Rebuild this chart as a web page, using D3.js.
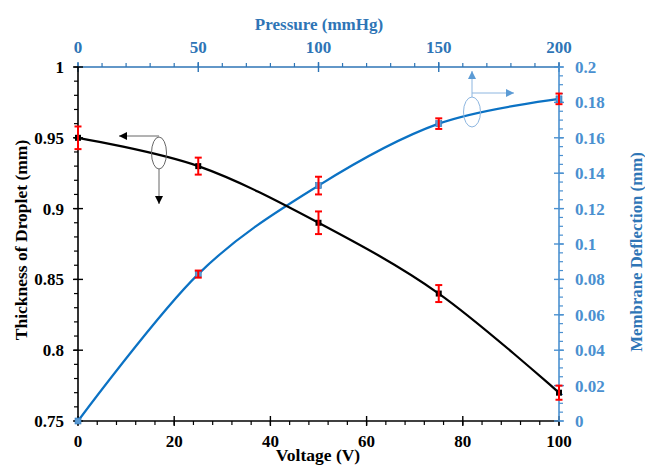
<!DOCTYPE html>
<html>
<head>
<meta charset="utf-8">
<script src="https://cdn.jsdelivr.net/npm/d3@7"></script>
<style>
  html, body { margin: 0; padding: 0; background: #fff; }
  svg { display: block; }
  svg text { font-family: "Liberation Serif", "Times New Roman", Times, serif; font-weight: bold; }
</style>
</head>
<body>
<svg id="chart" width="645" height="466"></svg>
<script>
// Droplet thickness vs. voltage (bottom / left axes)
const voltage = [0, 25, 50, 75, 100];
const thickness = [0.95, 0.93, 0.89, 0.84, 0.77];
const thicknessErr = [0.008, 0.006, 0.008, 0.006, 0.005];

// Membrane deflection vs. pressure (top / right axes)
const pressure = [0, 50, 100, 150, 200];
const deflection = [0, 0.083, 0.133, 0.168, 0.182];
const deflectionErr = [0, 0.002, 0.005, 0.003, 0.003];

// Tick values
const voltageTicks = [0, 20, 40, 60, 80, 100];
const pressureTicks = [0, 50, 100, 150, 200];
const thicknessTicks = [0.75, 0.8, 0.85, 0.9, 0.95, 1];
const deflectionTicks = [0, 0.02, 0.04, 0.06, 0.08, 0.1, 0.12, 0.14, 0.16, 0.18, 0.2];

const svg = d3.select("#chart");
const L = 78, R = 559, T = 67, B = 421;
const FONT = "'Liberation Serif', 'Times New Roman', Times, serif";

const xV = d3.scaleLinear().domain([0, 100]).range([L, R]);
const xP = d3.scaleLinear().domain([0, 200]).range([L, R]);
const yT = d3.scaleLinear().domain([0.75, 1]).range([B, T]);
const yD = d3.scaleLinear().domain([0, 0.2]).range([B, T]);

const black = "#000000";
const blueAxis = "#2E75B6";
const blueRight = "#4A90D0";
const blueLine = "#0B72C4";
const red = "#FF0000";

// Draw an axis: line, major ticks crossing it, minor ticks pointing outward
function drawAxis(orient, scale, majors, minorStep, color, fmt, labelOffset) {
  const g = svg.append("g");
  const [d0, d1] = scale.domain();
  const minors = d3.range(0, Math.round((d1 - d0) / minorStep) + 1).map(i => d0 + i * minorStep);
  const horiz = orient === "top" || orient === "bottom";
  const pos = orient === "top" ? T : orient === "bottom" ? B : orient === "left" ? L : R;
  const out = (orient === "top" || orient === "left") ? -1 : 1;
  const r = scale.range();
  if (horiz) {
    g.append("line").attr("x1", r[0]).attr("x2", r[1]).attr("y1", pos).attr("y2", pos)
      .attr("stroke", color).attr("stroke-width", 1.6);
  } else {
    g.append("line").attr("y1", r[0]).attr("y2", r[1]).attr("x1", pos).attr("x2", pos)
      .attr("stroke", color).attr("stroke-width", 1.6);
  }
  minors.forEach(v => {
    const p = scale(v);
    if (horiz) g.append("line").attr("x1", p).attr("x2", p).attr("y1", pos).attr("y2", pos + out * 4)
      .attr("stroke", color).attr("stroke-width", 1.2);
    else g.append("line").attr("y1", p).attr("y2", p).attr("x1", pos).attr("x2", pos + out * 4)
      .attr("stroke", color).attr("stroke-width", 1.2);
  });
  majors.forEach(v => {
    const p = scale(v);
    if (horiz) g.append("line").attr("x1", p).attr("x2", p).attr("y1", pos - 5).attr("y2", pos + 5)
      .attr("stroke", color).attr("stroke-width", 1.4);
    else g.append("line").attr("y1", p).attr("y2", p).attr("x1", pos - 5).attr("x2", pos + 5)
      .attr("stroke", color).attr("stroke-width", 1.4);
    const t = g.append("text").text(fmt(v)).attr("fill", color)
      .attr("font-family", FONT).attr("font-weight", "bold").attr("font-size", 17);
    if (orient === "top") t.attr("x", p).attr("y", pos - labelOffset).attr("text-anchor", "middle");
    if (orient === "bottom") t.attr("x", p).attr("y", pos + labelOffset).attr("text-anchor", "middle");
    if (orient === "left") t.attr("x", pos - labelOffset).attr("y", p + 6).attr("text-anchor", "end");
    if (orient === "right") t.attr("x", pos + labelOffset).attr("y", p + 6).attr("text-anchor", "start");
  });
}

const fmtNum = v => String(+v.toFixed(3));
drawAxis("bottom", xV, voltageTicks, 4, black, fmtNum, 26);
drawAxis("top", xP, pressureTicks, 10, blueAxis, fmtNum, 14);
drawAxis("left", yT, thicknessTicks, 0.01, black, fmtNum, 14);
drawAxis("right", yD, deflectionTicks, 0.005, blueRight, fmtNum, 16);

// Axis titles
function title(txt, size, color) {
  return svg.append("text").text(txt).attr("text-anchor", "middle")
    .attr("font-family", FONT).attr("font-weight", "bold").attr("font-size", size).attr("fill", color);
}
title("Voltage (V)", 17.5, black).attr("x", 318).attr("y", 461);
title("Pressure (mmHg)", 17, blueAxis).attr("x", 319).attr("y", 30);
title("Thickness of Droplet (mm)", 17.5, black).attr("transform", "translate(27,240) rotate(-90)");
title("Membrane Deflection (mm)", 16.8, blueAxis).attr("transform", "translate(642,252) rotate(-90)");

// Smoothed series lines
const curve = d3.curveCardinal.tension(0);
const thickData = voltage.map((v, i) => ({ x: v, y: thickness[i], e: thicknessErr[i] }));
const deflData = pressure.map((p, i) => ({ x: p, y: deflection[i], e: deflectionErr[i] }));

svg.append("path").datum(deflData)
  .attr("d", d3.line().x(d => xP(d.x)).y(d => yD(d.y)).curve(curve))
  .attr("fill", "none").attr("stroke", blueLine).attr("stroke-width", 2.2);
svg.append("path").datum(thickData)
  .attr("d", d3.line().x(d => xV(d.x)).y(d => yT(d.y)).curve(curve))
  .attr("fill", "none").attr("stroke", black).attr("stroke-width", 2.2);

// Markers
svg.selectAll(".mD").data(deflData).join("rect")
  .attr("x", d => xP(d.x) - 3).attr("y", d => yD(d.y) - 3).attr("width", 6).attr("height", 6)
  .attr("fill", "#5B9BD5").attr("stroke", "#2E75B6").attr("stroke-width", 0.6);
svg.selectAll(".mT").data(thickData).join("rect")
  .attr("x", d => xV(d.x) - 3).attr("y", d => yT(d.y) - 3).attr("width", 6).attr("height", 6)
  .attr("fill", black);

// Error bars
function errorBars(data, xs, ys) {
  const g = svg.append("g").attr("stroke", red).attr("stroke-width", 2).attr("fill", "none");
  data.filter(d => d.e > 0).forEach(d => {
    const x = xs(d.x), y0 = ys(d.y - d.e), y1 = ys(d.y + d.e);
    g.append("line").attr("x1", x).attr("x2", x).attr("y1", y0).attr("y2", y1);
    g.append("line").attr("x1", x - 3.5).attr("x2", x + 3.5).attr("y1", y0).attr("y2", y0);
    g.append("line").attr("x1", x - 3.5).attr("x2", x + 3.5).attr("y1", y1).attr("y2", y1);
  });
}
errorBars(deflData, xP, yD);
errorBars(thickData, xV, yT);

// Arrow markers for the series-to-axis callouts
const defs = svg.append("defs");
function arrowHead(id, color) {
  defs.append("marker").attr("id", id).attr("viewBox", "0 0 10 10")
    .attr("refX", 10).attr("refY", 5).attr("markerWidth", 8).attr("markerHeight", 8)
    .attr("markerUnits", "userSpaceOnUse").attr("orient", "auto")
    .append("path").attr("d", "M0,0 L10,5 L0,10 Z").attr("fill", color);
}
arrowHead("arrBlack", "#000");
arrowHead("arrBlue", "#5B9BD5");

// Callout for the thickness curve (points to left/bottom axes)
const c1 = { x: 159, y: 153, rx: 7.5, ry: 16 };
svg.append("ellipse").attr("cx", c1.x).attr("cy", c1.y).attr("rx", c1.rx).attr("ry", c1.ry)
  .attr("fill", "none").attr("stroke", "#666").attr("stroke-width", 1);
svg.append("line").attr("x1", c1.x).attr("y1", 136).attr("x2", 119).attr("y2", 136)
  .attr("stroke", "#666").attr("stroke-width", 1).attr("marker-end", "url(#arrBlack)");
svg.append("line").attr("x1", c1.x).attr("y1", c1.y + c1.ry).attr("x2", c1.x).attr("y2", 204)
  .attr("stroke", "#666").attr("stroke-width", 1).attr("marker-end", "url(#arrBlack)");

// Callout for the deflection curve (points to top/right axes)
const c2 = { x: 472, y: 112, rx: 8.5, ry: 15 };
svg.append("ellipse").attr("cx", c2.x).attr("cy", c2.y).attr("rx", c2.rx).attr("ry", c2.ry)
  .attr("fill", "none").attr("stroke", "#8DB6E0").attr("stroke-width", 1);
svg.append("line").attr("x1", c2.x).attr("y1", c2.y - c2.ry).attr("x2", c2.x).attr("y2", 71)
  .attr("stroke", "#8DB6E0").attr("stroke-width", 1).attr("marker-end", "url(#arrBlue)");
svg.append("line").attr("x1", c2.x).attr("y1", 93).attr("x2", 514).attr("y2", 93)
  .attr("stroke", "#8DB6E0").attr("stroke-width", 1).attr("marker-end", "url(#arrBlue)");
</script>
</body>
</html>
